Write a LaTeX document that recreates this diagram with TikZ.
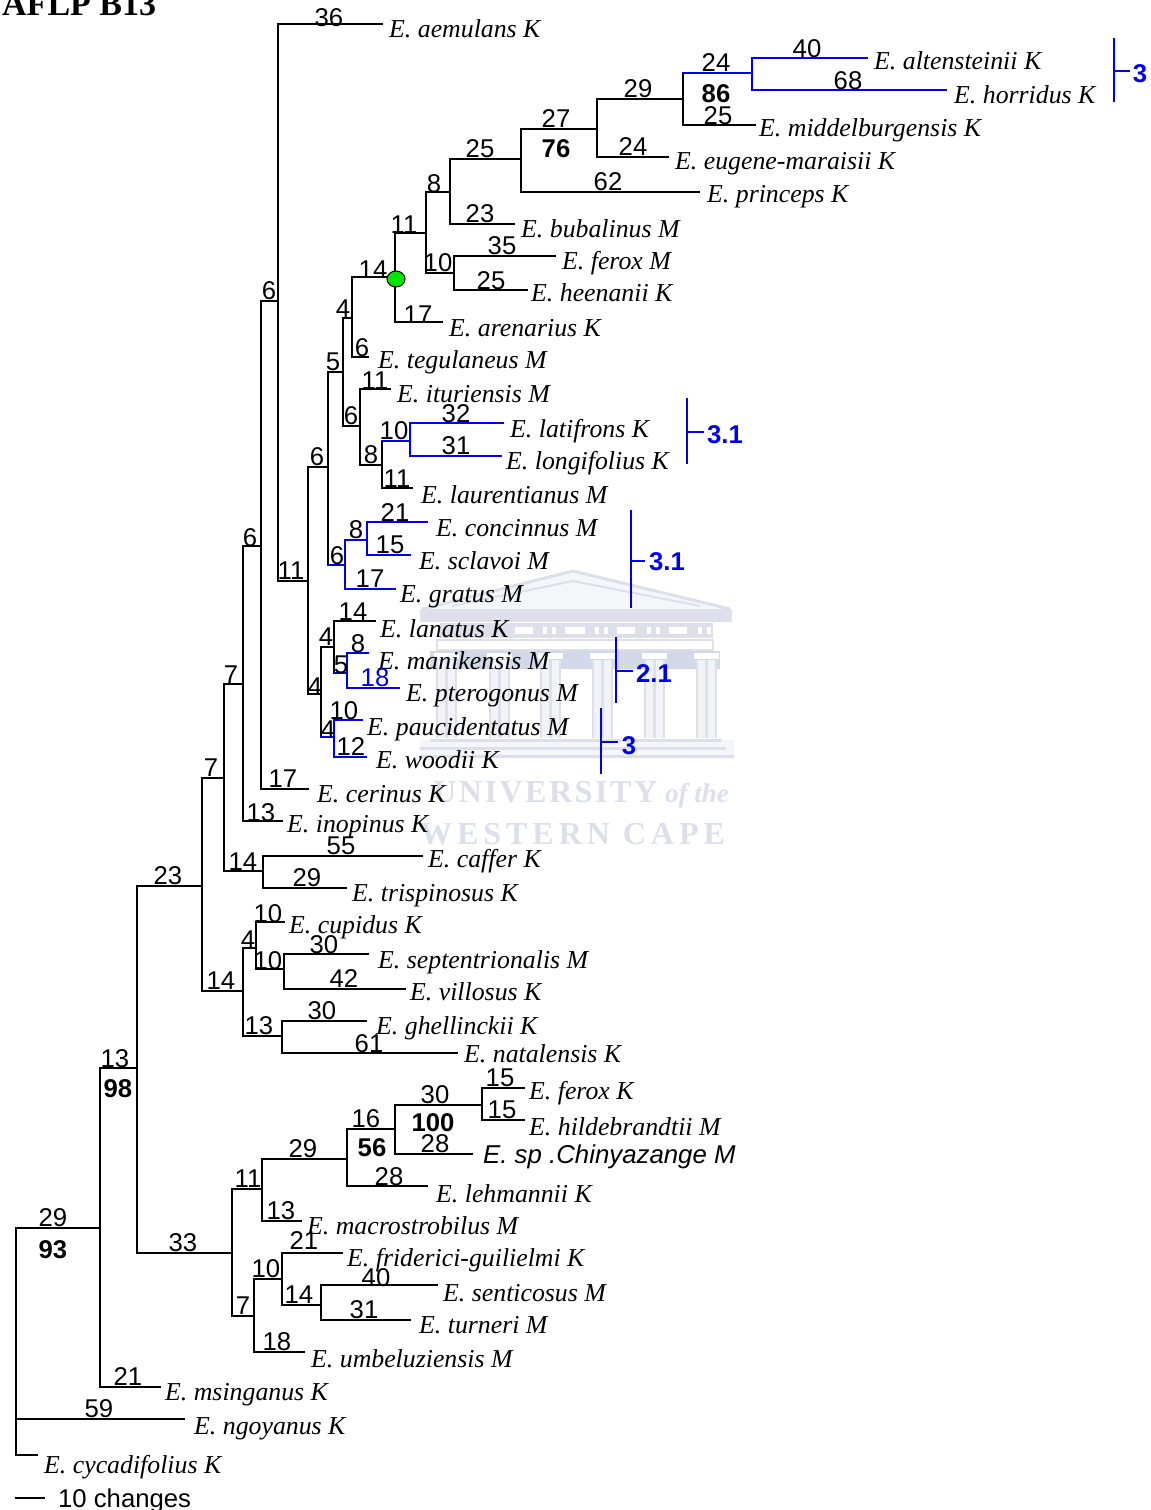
\documentclass[tikz,border=0pt]{standalone}
\usepackage{fontspec}
\setmainfont{Liberation Serif}
\setsansfont{Liberation Sans}
\usepackage{xcolor}
\usetikzlibrary{shapes.geometric}
\newfontfamily\univfont[LetterSpace=8]{Liberation Serif}
\newfontfamily\capefont[LetterSpace=15.5]{Liberation Serif}
\definecolor{crest}{HTML}{DDE0EA}
\definecolor{crestdark}{HTML}{D3D8E9}
\definecolor{treeblue}{HTML}{0000F0}

\begin{document}
\begin{tikzpicture}[x=1pt,y=-1pt,
branch/.style={draw=black, line width=1.9pt, line cap=rect},
bluebranch/.style={draw=treeblue, line width=1.9pt, line cap=rect},
taxon/.style={font=\itshape\fontsize{25.8}{25.8}\selectfont, anchor=base west, inner sep=0pt},
brlen/.style={font=\sffamily\fontsize{25.7}{25.7}\selectfont, inner sep=0pt, yshift=-1pt},
boot/.style={font=\sffamily\bfseries\fontsize{25.7}{25.7}\selectfont, inner sep=0pt, yshift=-1pt},
group/.style={font=\sffamily\bfseries\fontsize{25.7}{25.7}\selectfont, inner sep=0pt, yshift=-1pt, text=treeblue},
crestline/.style={draw=crest, line width=3pt},
column/.style={draw=crest, line width=2.5pt},
wordmark/.style={text=crest, anchor=base west, inner sep=0pt}
]
\useasboundingbox (0,0) rectangle (1151,1510);

% crest behind the tree
\fill[crest!30] (422,610) -- (573,571) -- (730,610) -- cycle;
\draw[crestline, line join=round] (422,609) -- (573,571) -- (730,609);
\draw[draw=crest, line width=2pt] (452,606) -- (573,581) -- (700,606);
\fill[crest] (420,609) rectangle (732,622);
\fill[crest] (440,623) rectangle (713,638);
\fill[white] (515,627) rectangle (533,634);
\fill[white] (565,627) rectangle (585,634);
\fill[white] (617,627) rectangle (635,634);
\fill[white] (669,627) rectangle (687,634);
\fill[white] (543,627) rectangle (547,634);
\fill[white] (552,627) rectangle (556,634);
\fill[white] (595,627) rectangle (599,634);
\fill[white] (604,627) rectangle (608,634);
\fill[white] (647,627) rectangle (651,634);
\fill[white] (656,627) rectangle (660,634);
\fill[white] (698,627) rectangle (702,634);
\fill[white] (707,627) rectangle (711,634);
\draw[column] (437,640) rectangle (713,650);
\fill[crestdark] (430,651) rectangle (720,669);
\foreach \colx in {437,490,541,593,645,697}{
  \fill[crest!40] (\colx,660) rectangle (\colx+19,738);
  \fill[white] (\colx-3,653) rectangle (\colx+22,659);
  \draw[column] (\colx,660) -- (\colx,738);
  \draw[column] (\colx+19,660) -- (\colx+19,738);
  \draw[column] (\colx+9.5,660) -- (\colx+9.5,738);
}
\fill[crest!30] (420,740) rectangle (734,758);
\draw[crestline] (430,740) -- (722,740);
\draw[crestline] (420,748) -- (726,748);
\draw[crestline] (420,756) -- (734,756);
\node[wordmark, font=\univfont\bfseries\fontsize{32}{32}\selectfont] (univ) at (433,802) {UNIVERSITY};
\node[wordmark, font=\itshape\bfseries\fontsize{27}{27}\selectfont] (ofthe) at (665,802) {of the};
\node[wordmark, font=\capefont\bfseries\fontsize{32}{32}\selectfont] (cape) at (420,844) {WESTERN CAPE};

\node[anchor=base west, inner sep=0pt, font=\bfseries\fontsize{34}{34}\selectfont] (title) at (2,15) {AFLP B13};

% internal nodes
\coordinate (root) at (16,1419);
\coordinate (n1) at (100,1228);
\coordinate (n2) at (137,1068);
\coordinate (n3) at (202,886);
\coordinate (n4) at (224,778);
\coordinate (n5) at (243,991);
\coordinate (n6) at (243,684);
\coordinate (n7) at (263,871);
\coordinate (n8) at (261,546);
\coordinate (n9) at (278,301);
\coordinate (n10) at (308,581);
\coordinate (n11) at (328,467);
\coordinate (n12) at (321,694);
\coordinate (n13) at (343,372);
\coordinate (n14) at (352,318);
\coordinate (n15) at (360,426);
\coordinate (n16) at (395,277);
\coordinate (n17) at (426,233);
\coordinate (n18) at (450,192);
\coordinate (n19) at (454,273);
\coordinate (n20) at (521,159);
\coordinate (n21) at (597,129);
\coordinate (n22) at (683,99);
\coordinate (n23) at (752,73);
\coordinate (n24) at (382,465);
\coordinate (n25) at (410,441);
\coordinate (n26) at (345,565);
\coordinate (n27) at (367,540);
\coordinate (n28) at (334,647);
\coordinate (n29) at (334,737);
\coordinate (n30) at (347,673);
\coordinate (n31) at (256,948);
\coordinate (n32) at (284,969);
\coordinate (n33) at (282,1036);
\coordinate (n34) at (232,1253);
\coordinate (n35) at (262,1189);
\coordinate (n36) at (347,1159);
\coordinate (n37) at (395,1129);
\coordinate (n38) at (482,1105);
\coordinate (n39) at (254,1316);
\coordinate (n40) at (282,1279);
\coordinate (n41) at (321,1305);

% branch tips
\coordinate (tAemulans) at (382,24);
\coordinate (tAltensteinii) at (867,58);
\coordinate (tHorridus) at (946,90);
\coordinate (tMiddelburg) at (755,125);
\coordinate (tEugene) at (668,157);
\coordinate (tPrinceps) at (699,192);
\coordinate (tBubalinus) at (514,224);
\coordinate (tFeroxM) at (555,256);
\coordinate (tHeenanii) at (527,290);
\coordinate (tArenarius) at (442,322);
\coordinate (tTegulaneus) at (368,357);
\coordinate (tIturiensis) at (390,389);
\coordinate (tLatifrons) at (503,423);
\coordinate (tLongifolius) at (501,456);
\coordinate (tLaurentianus) at (412,488);
\coordinate (tConcinnus) at (427,522);
\coordinate (tSclavoi) at (410,555);
\coordinate (tGratus) at (395,589);
\coordinate (tLanatus) at (375,621);
\coordinate (tManikensis) at (368,653);
\coordinate (tPterogonus) at (399,688);
\coordinate (tPaucidentatus) at (362,720);
\coordinate (tWoodii) at (366,757);
\coordinate (tCerinus) at (308,789);
\coordinate (tInopinus) at (282,821);
\coordinate (tCaffer) at (422,856);
\coordinate (tTrispinosus) at (346,888);
\coordinate (tCupidus) at (284,922);
\coordinate (tSeptentrionalis) at (368,954);
\coordinate (tVillosus) at (405,989);
\coordinate (tGhellinckii) at (366,1021);
\coordinate (tNatalensis) at (457,1053);
\coordinate (tFeroxK) at (524,1088);
\coordinate (tHildebrandtii) at (524,1120);
\coordinate (tChinyazange) at (472,1154);
\coordinate (tLehmannii) at (427,1186);
\coordinate (tMacrostrobilus) at (301,1221);
\coordinate (tFridericii) at (342,1253);
\coordinate (tSenticosus) at (437,1285);
\coordinate (tTurneri) at (410,1320);
\coordinate (tUmbeluziensis) at (304,1352);
\coordinate (tMsinganus) at (160,1387);
\coordinate (tNgoyanus) at (184,1419);
\coordinate (tCycadifolius) at (37,1455);

% branches
\draw[branch] (root) |- (n1);
\draw[branch] (root) |- (tNgoyanus);
\draw[branch] (root) |- (tCycadifolius);
\draw[branch] (n1) |- (n2);
\draw[branch] (n1) |- (tMsinganus);
\draw[branch] (n2) |- (n3);
\draw[branch] (n2) |- (n34);
\draw[branch] (n3) |- (n4);
\draw[branch] (n3) |- (n5);
\draw[branch] (n4) |- (n6);
\draw[branch] (n4) |- (n7);
\draw[branch] (n6) |- (n8);
\draw[branch] (n6) |- (tInopinus);
\draw[branch] (n8) |- (n9);
\draw[branch] (n8) |- (tCerinus);
\draw[branch] (n9) |- (tAemulans);
\draw[branch] (n9) |- (n10);
\draw[branch] (n10) |- (n11);
\draw[branch] (n10) |- (n12);
\draw[branch] (n11) |- (n13);
\draw[branch] (n11) -- (n11 |- n26);
\draw[branch] (n13) |- (n14);
\draw[branch] (n13) |- (n15);
\draw[branch] (n14) |- (n16);
\draw[branch] (n14) |- (tTegulaneus);
\draw[branch] (n16) |- (n17);
\draw[branch] (n16) |- (tArenarius);
\draw[branch] (n17) |- (n18);
\draw[branch] (n17) |- (n19);
\draw[branch] (n18) |- (n20);
\draw[branch] (n18) |- (tBubalinus);
\draw[branch] (n19) |- (tFeroxM);
\draw[branch] (n19) |- (tHeenanii);
\draw[branch] (n20) |- (n21);
\draw[branch] (n20) |- (tPrinceps);
\draw[branch] (n21) |- (n22);
\draw[branch] (n21) |- (tEugene);
\draw[branch] (n22) -- (n22 |- n23);
\draw[branch] (n22) |- (tMiddelburg);
\draw[branch] (n15) |- (tIturiensis);
\draw[branch] (n15) |- (n24);
\draw[branch] (n24) -- (n24 |- n25);
\draw[branch] (n24) |- (tLaurentianus);
\draw[branch] (n12) |- (n28);
\draw[branch] (n12) -- (n12 |- n29);
\draw[branch] (n28) |- (tLanatus);
\draw[branch] (n28) -- (n28 |- n30);
\draw[branch] (n5) |- (n31);
\draw[branch] (n5) |- (n33);
\draw[branch] (n7) |- (tCaffer);
\draw[branch] (n7) |- (tTrispinosus);
\draw[branch] (n31) |- (tCupidus);
\draw[branch] (n31) |- (n32);
\draw[branch] (n32) |- (tSeptentrionalis);
\draw[branch] (n32) |- (tVillosus);
\draw[branch] (n33) |- (tGhellinckii);
\draw[branch] (n33) |- (tNatalensis);
\draw[branch] (n34) |- (n35);
\draw[branch] (n34) |- (n39);
\draw[branch] (n35) |- (n36);
\draw[branch] (n35) |- (tMacrostrobilus);
\draw[branch] (n36) |- (n37);
\draw[branch] (n36) |- (tLehmannii);
\draw[branch] (n37) |- (n38);
\draw[branch] (n37) |- (tChinyazange);
\draw[branch] (n38) |- (tFeroxK);
\draw[branch] (n38) |- (tHildebrandtii);
\draw[branch] (n39) |- (n40);
\draw[branch] (n39) |- (tUmbeluziensis);
\draw[branch] (n40) |- (tFridericii);
\draw[branch] (n40) |- (n41);
\draw[branch] (n41) |- (tSenticosus);
\draw[branch] (n41) |- (tTurneri);

% blue clades
\draw[bluebranch] (n22 |- n23) -- (n23);
\draw[bluebranch] (n23) |- (tAltensteinii);
\draw[bluebranch] (n23) |- (tHorridus);
\draw[bluebranch] (n24 |- n25) -- (n25);
\draw[bluebranch] (n25) |- (tLatifrons);
\draw[bluebranch] (n25) |- (tLongifolius);
\draw[bluebranch] (n11 |- n26) -- (n26);
\draw[bluebranch] (n26) |- (n27);
\draw[bluebranch] (n26) |- (tGratus);
\draw[bluebranch] (n27) |- (tConcinnus);
\draw[bluebranch] (n27) |- (tSclavoi);
\draw[bluebranch] (n28 |- n30) -- (n30);
\draw[bluebranch] (n30) |- (tManikensis);
\draw[bluebranch] (n30) |- (tPterogonus);
\draw[bluebranch] (n12 |- n29) -- (n29);
\draw[bluebranch] (n29) |- (tPaucidentatus);
\draw[bluebranch] (n29) |- (tWoodii);

\node[draw=black, fill=green!90!black, ellipse, line width=1pt, minimum width=18pt, minimum height=16pt, inner sep=0pt] (hub) at (396,279) {};

% taxa
\node[taxon] (aemulans) at (389,37) {E. aemulans K};
\node[taxon] (altensteinii) at (874,69) {E. altensteinii K};
\node[taxon] (horridus) at (954,103) {E. horridus K};
\node[taxon] (middelburg) at (759,136) {E. middelburgensis K};
\node[taxon] (eugene) at (675,169) {E. eugene-maraisii K};
\node[taxon] (princeps) at (707,202) {E. princeps K};
\node[taxon] (bubalinus) at (521,237) {E. bubalinus M};
\node[taxon] (feroxm) at (562,269) {E. ferox M};
\node[taxon] (heenanii) at (531,301) {E. heenanii K};
\node[taxon] (arenarius) at (449,336) {E. arenarius K};
\node[taxon] (tegulaneus) at (378,368) {E. tegulaneus M};
\node[taxon] (ituriensis) at (397,402) {E. ituriensis M};
\node[taxon] (latifrons) at (510,437) {E. latifrons K};
\node[taxon] (longifolius) at (506,469) {E. longifolius K};
\node[taxon] (laurentianus) at (421,503) {E. laurentianus M};
\node[taxon] (concinnus) at (436,536) {E. concinnus M};
\node[taxon] (sclavoi) at (419,569) {E. sclavoi M};
\node[taxon] (gratus) at (400,602) {E. gratus M};
\node[taxon] (lanatus) at (380,637) {E. lanatus K};
\node[taxon] (manikensis) at (378,669) {E. manikensis M};
\node[taxon] (pterogonus) at (406,701) {E. pterogonus M};
\node[taxon] (paucidentatus) at (367,735) {E. paucidentatus M};
\node[taxon] (woodii) at (376,768) {E. woodii K};
\node[taxon] (cerinus) at (317,802) {E. cerinus K};
\node[taxon] (inopinus) at (287,832) {E. inopinus K};
\node[taxon] (caffer) at (428,867) {E. caffer K};
\node[taxon] (trispinosus) at (352,901) {E. trispinosus K};
\node[taxon] (cupidus) at (289,933) {E. cupidus K};
\node[taxon] (septentrionalis) at (378,968) {E. septentrionalis M};
\node[taxon] (villosus) at (410,1000) {E. villosus K};
\node[taxon] (ghellinckii) at (376,1034) {E. ghellinckii K};
\node[taxon] (natalensis) at (464,1062) {E. natalensis K};
\node[taxon] (feroxk) at (529,1099) {E. ferox K};
\node[taxon] (hildebrandtii) at (529,1135) {E. hildebrandtii M};
\node[taxon, font=\sffamily\itshape\fontsize{25.8}{25.8}\selectfont] (chinyazange) at (483,1163) {E. sp .Chinyazange M};
\node[taxon] (lehmannii) at (436,1202) {E. lehmannii K};
\node[taxon] (macrostrobilus) at (307,1234) {E. macrostrobilus M};
\node[taxon] (fridericii) at (347,1266) {E. friderici-guilielmi K};
\node[taxon] (senticosus) at (443,1301) {E. senticosus M};
\node[taxon] (turneri) at (419,1333) {E. turneri M};
\node[taxon] (umbeluziensis) at (311,1367) {E. umbeluziensis M};
\node[taxon] (msinganus) at (165,1400) {E. msinganus K};
\node[taxon] (ngoyanus) at (194,1434) {E. ngoyanus K};
\node[taxon] (cycadifolius) at (44,1473) {E. cycadifolius K};

% branch lengths
\node[brlen] (lAemulans) at (329,17) {36};
\node[brlen] (lAltensteinii) at (807,48) {40};
\node[brlen] (lHorridus) at (848,80) {68};
\node[brlen] (lN23) at (716,62) {24};
\node[brlen] (lMiddelburg) at (718,115) {25};
\node[brlen] (lN22) at (638,88) {29};
\node[brlen] (lN21) at (556,118) {27};
\node[brlen] (lEugene) at (633,146) {24};
\node[brlen] (lPrinceps) at (608,181) {62};
\node[brlen] (lN20) at (480,148) {25};
\node[brlen] (lN18) at (434,183) {8};
\node[brlen] (lBubalinus) at (480,213) {23};
\node[brlen] (lN17) at (404,224) {11};
\node[brlen] (lFeroxM) at (502,245) {35};
\node[brlen] (lN19) at (438,262) {10};
\node[brlen] (lHeenanii) at (491,280) {25};
\node[brlen] (lN16) at (373,269) {14};
\node[brlen] (lArenarius) at (418,314) {17};
\node[brlen] (lN14) at (343,308) {4};
\node[brlen] (lTegulaneus) at (362,347) {6};
\node[brlen] (lN13) at (333,361) {5};
\node[brlen] (lIturiensis) at (375,380) {11};
\node[brlen] (lN15) at (351,415) {6};
\node[brlen] (lN25) at (394,430) {10};
\node[brlen] (lLatifrons) at (456,413) {32};
\node[brlen] (lLongifolius) at (456,445) {31};
\node[brlen] (lN24) at (371,454) {8};
\node[brlen] (lLaurentianus) at (397,478) {11};
\node[brlen] (lN11) at (317,456) {6};
\node[brlen] (lN9) at (269,290) {6};
\node[brlen] (lConcinnus) at (395,512) {21};
\node[brlen] (lN27) at (356,529) {8};
\node[brlen] (lSclavoi) at (390,544) {15};
\node[brlen] (lN26) at (337,555) {6};
\node[brlen] (lGratus) at (370,578) {17};
\node[brlen] (lN10) at (291,570) {11};
\node[brlen] (lN8) at (250,537) {6};
\node[brlen] (lLanatus) at (353,611) {14};
\node[brlen] (lN28) at (326,636) {4};
\node[brlen] (lManikensis) at (358,643) {8};
\node[brlen] (lN30) at (341,664) {5};
\node[brlen, text=treeblue] (lPterogonus) at (375,677) {18};
\node[brlen] (lN12) at (315,686) {4};
\node[brlen] (lPaucidentatus) at (344,710) {10};
\node[brlen] (lN29) at (328,729) {4};
\node[brlen] (lWoodii) at (351,746) {12};
\node[brlen] (lN6) at (231,674) {7};
\node[brlen] (lCerinus) at (283,778) {17};
\node[brlen] (lN4) at (211,767) {7};
\node[brlen] (lInopinus) at (261,812) {13};
\node[brlen] (lCaffer) at (341,845) {55};
\node[brlen] (lN7) at (243,861) {14};
\node[brlen] (lTrispinosus) at (307,877) {29};
\node[brlen] (lN3) at (168,875) {23};
\node[brlen] (lCupidus) at (268,913) {10};
\node[brlen] (lN31) at (248,939) {4};
\node[brlen] (lSeptentrionalis) at (324,944) {30};
\node[brlen] (lN32) at (268,960) {10};
\node[brlen] (lVillosus) at (344,978) {42};
\node[brlen] (lN5) at (221,980) {14};
\node[brlen] (lGhellinckii) at (322,1010) {30};
\node[brlen] (lN33) at (259,1025) {13};
\node[brlen] (lNatalensis) at (369,1043) {61};
\node[brlen] (lN2) at (115,1058) {13};
\node[brlen] (lFeroxK) at (500,1077) {15};
\node[brlen] (lN38) at (435,1094) {30};
\node[brlen] (lHildebrandtii) at (502,1109) {15};
\node[brlen] (lN37) at (366,1118) {16};
\node[brlen] (lChinyazange) at (435,1143) {28};
\node[brlen] (lN36) at (303,1148) {29};
\node[brlen] (lLehmannii) at (389,1176) {28};
\node[brlen] (lN35) at (248,1178) {11};
\node[brlen] (lMacrostrobilus) at (281,1210) {13};
\node[brlen] (lN1) at (53,1217) {29};
\node[brlen] (lFridericii) at (304,1240) {21};
\node[brlen] (lN34) at (183,1242) {33};
\node[brlen] (lN40) at (266,1268) {10};
\node[brlen] (lSenticosus) at (376,1277) {40};
\node[brlen] (lN41) at (299,1294) {14};
\node[brlen] (lN39) at (243,1305) {7};
\node[brlen] (lTurneri) at (364,1309) {31};
\node[brlen] (lUmbeluziensis) at (277,1341) {18};
\node[brlen] (lMsinganus) at (128,1376) {21};
\node[brlen] (lNgoyanus) at (99,1408) {59};

% bootstrap values
\node[boot] (b86) at (716,93) {86};
\node[boot] (b76) at (556,148) {76};
\node[boot] (b98) at (118,1088) {98};
\node[boot] (b100) at (433,1122) {100};
\node[boot] (b56) at (372,1147) {56};
\node[boot] (b93) at (53,1249) {93};

% group brackets
\coordinate (g1top) at (1114,39);
\coordinate (g1bot) at (1114,101);
\coordinate (g1mid) at (1114,71);
\coordinate (g1tick) at (1129,71);
\node[group] (g1) at (1140,73) {3};
\draw[bluebranch] (g1top) -- (g1bot);
\draw[bluebranch] (g1mid) -- (g1tick);
\coordinate (g2top) at (687,399);
\coordinate (g2bot) at (687,463);
\coordinate (g2mid) at (687,432);
\coordinate (g2tick) at (703,432);
\node[group] (g2) at (725,434) {3.1};
\draw[bluebranch] (g2top) -- (g2bot);
\draw[bluebranch] (g2mid) -- (g2tick);
\coordinate (g3top) at (631,511);
\coordinate (g3bot) at (631,607);
\coordinate (g3mid) at (631,561);
\coordinate (g3tick) at (644,561);
\node[group] (g3) at (667,561) {3.1};
\draw[bluebranch] (g3top) -- (g3bot);
\draw[bluebranch] (g3mid) -- (g3tick);
\coordinate (g4top) at (616,638);
\coordinate (g4bot) at (616,702);
\coordinate (g4mid) at (616,671);
\coordinate (g4tick) at (632,671);
\node[group] (g4) at (654,673) {2.1};
\draw[bluebranch] (g4top) -- (g4bot);
\draw[bluebranch] (g4mid) -- (g4tick);
\coordinate (g5top) at (601,709);
\coordinate (g5bot) at (601,773);
\coordinate (g5mid) at (601,742);
\coordinate (g5tick) at (617,742);
\node[group] (g5) at (629,745) {3};
\draw[bluebranch] (g5top) -- (g5bot);
\draw[bluebranch] (g5mid) -- (g5tick);

% scale bar
\coordinate (scaleL) at (16,1498);
\coordinate (scaleR) at (44,1498);
\draw[branch] (scaleL) -- (scaleR);
\node[brlen, anchor=base west, yshift=1pt] (scaleText) at (58,1507) {10 changes};
\end{tikzpicture}
\end{document}
